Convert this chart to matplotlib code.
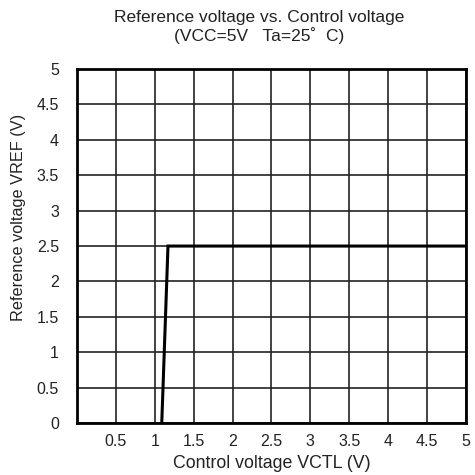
import matplotlib
matplotlib.use("Agg")
import matplotlib.pyplot as plt

# curve (VCTL, VREF)
vctl = [1.09, 1.17, 5.0]
vref = [0.0, 2.5, 2.5]

x_ticks = [0.5, 1, 1.5, 2, 2.5, 3, 3.5, 4, 4.5, 5]
x_labels = ["0.5", "1", "1.5", "2", "2.5", "3", "3.5", "4", "4.5", "5"]
y_ticks = [0, 0.5, 1, 1.5, 2, 2.5, 3, 3.5, 4, 4.5, 5]
y_labels = ["0", "0.5", "1", "1.5", "2", "2.5", "3", "3.5", "4", "4.5", "5"]

plt.rcParams["font.family"] = ["Liberation Sans", "DejaVu Sans"]

fig = plt.figure(figsize=(4.75, 4.75), dpi=100)
ax = fig.add_axes([0.162, 0.109, 0.819, 0.746])

ax.plot(vctl, vref, color="black", linewidth=2.2, solid_joinstyle="miter")

ax.set_xlim(0, 5)
ax.set_ylim(0, 5)
ax.set_xticks(x_ticks)
ax.set_xticklabels(x_labels)
ax.set_yticks(y_ticks)
ax.set_yticklabels(y_labels)
ax.tick_params(axis="x", length=0, labelsize=11.5, pad=8, colors="#222222")
ax.tick_params(axis="y", length=0, labelsize=11.5, pad=13, colors="#222222")
ax.grid(True, color="#222222", linewidth=1.2)
ax.set_axisbelow(True)
for s in ax.spines.values():
    s.set_linewidth(2.0)
    s.set_color("black")

ax.set_xlabel("Control voltage VCTL (V)", fontsize=12.8, labelpad=4, color="#222222")
ax.set_ylabel("Reference voltage VREF (V)", fontsize=11.7, labelpad=6, color="#222222")
# the y label sits above the middle of the axis in the reference
ax.yaxis.set_label_coords(-0.13, 0.582)

fig.text(0.546, 0.963, "Reference voltage vs. Control voltage", ha="center",
         va="center", fontsize=12.5, color="#222222")
fig.text(0.546, 0.925, "(VCC=5V   Ta=25\u02da  C)", ha="center",
         va="center", fontsize=12.5, color="#222222")

fig.savefig("out.png", dpi=100)
